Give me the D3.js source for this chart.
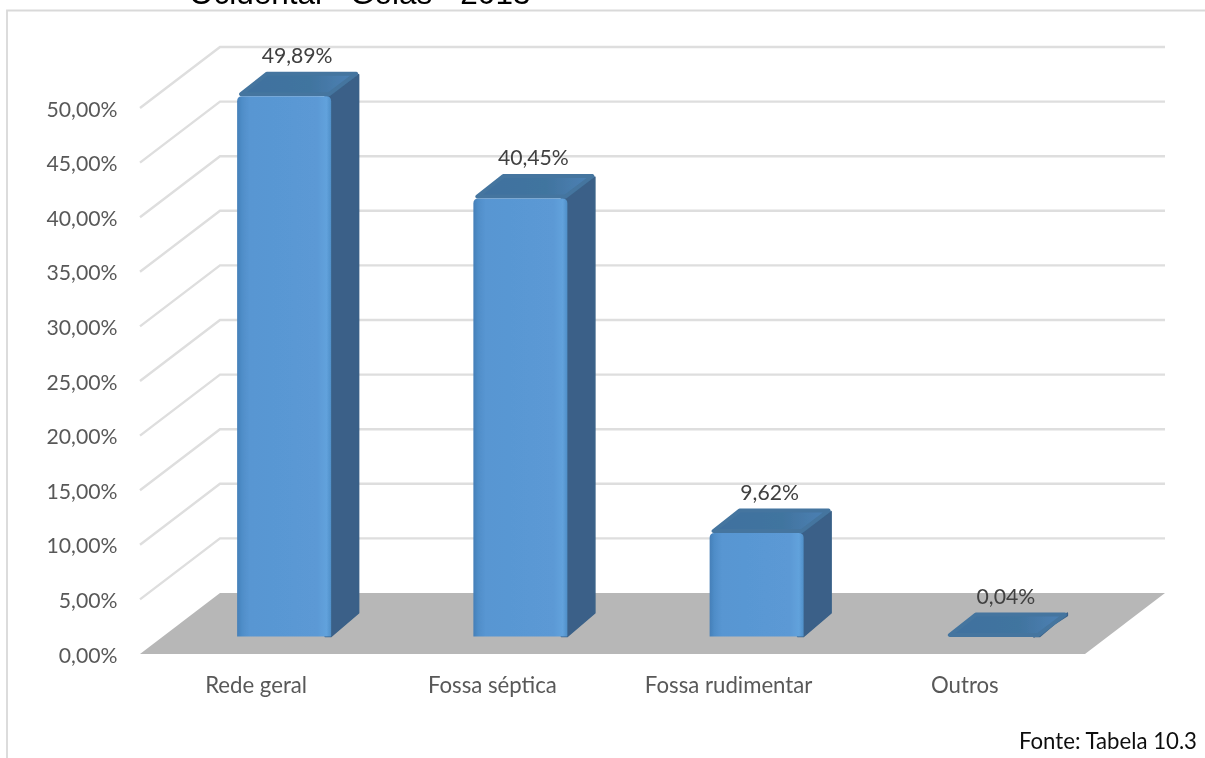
<!DOCTYPE html>
<html><head><meta charset="utf-8">
<script src="https://cdnjs.cloudflare.com/ajax/libs/d3/7.8.5/d3.min.js"></script>
<style>html,body{margin:0;padding:0;background:#fff;overflow:hidden}svg{display:block}text{font-family:Lato,"Noto Sans",sans-serif}</style>
</head><body><svg id="c" width="1205" height="758"></svg>
<script>
const categories = ["Rede geral","Fossa séptica","Fossa rudimentar","Outros"];
const values = [49.89,40.45,9.62,0.04];
const valueLabels = ["49,89%","40,45%","9,62%","0,04%"];
const ticks = [0,5,10,15,20,25,30,35,40,45,50];
const titleFragment = "Ocidental - Goiás - 2013";
const sourceNote = "Fonte: Tabela 10.3";

const svg = d3.select("#c");
const defs = svg.append("defs");
const blurL = defs.append("filter").attr("id","softL").attr("filterUnits","userSpaceOnUse")
  .attr("x",0).attr("y",0).attr("width",1205).attr("height",758);
blurL.append("feGaussianBlur").attr("stdDeviation",0.7);

function grad(id, stops){
  const g = defs.append("linearGradient").attr("id",id).attr("x1",0).attr("x2",1).attr("y1",0).attr("y2",0);
  stops.forEach(s=>g.append("stop").attr("offset",s[0]).attr("stop-color",s[1]));
}
grad("front",[[0,"#447fb8"],[0.05,"#4f8dc8"],[0.13,"#5896d2"],[0.85,"#5b99d5"],[0.95,"#62a2dc"],[1,"#4f8fc8"]]);
grad("top",[[0,"#41719f"],[0.6,"#41749f"],[0.9,"#4a7eb0"],[1,"#4b80b2"]]);

const y = d3.scaleLinear().domain([0,50]).range([654,108]);
const barY = d3.scaleLinear().domain([0,50]).range([636.5,94]);
const x = d3.scaleBand().domain(categories).range([140,1085]).padding(0);
const wallDx = 80, wallDy = -61, wallRight = 1165;
const barOff = 26, barW = 94, barDx = 28, barDy = -23.5;

const line = d3.line();
const chart = svg.append("g").attr("filter","url(#softL)");

// frame
chart.append("path").attr("d",line([[7,758],[7,10.5],[1205,10.5]])).attr("fill","none").attr("stroke","#d9d9d9").attr("stroke-width",1.8);

// floor
chart.append("path").attr("fill","#b7b7b7")
  .attr("d",line([[x.range()[0],y(0)],[x.range()[1],y(0)],[wallRight,y(0)+wallDy],[x.range()[0]+wallDx,y(0)+wallDy]])+"Z");

// gridlines along the side and back walls
chart.append("g").selectAll("path").data(ticks.filter(t=>t>0)).join("path")
  .attr("fill","none").attr("stroke","#dedede").attr("stroke-width",2.4)
  .attr("d",t=>line([[x.range()[0],y(t)],[x.range()[0]+wallDx,y(t)+wallDy],[wallRight,y(t)+wallDy]]));

// bars
const bars = chart.append("g").selectAll("g").data(categories).join("g");
const left = c => x(c)+x.bandwidth()/2+barOff-barW/2;
const topOf = (d,i)=>barY(values[i]);
bars.append("path").attr("fill","#3a6188").attr("stroke","#3a6188").attr("stroke-width",1.5).attr("stroke-linejoin","round")
  .attr("d",(c,i)=>{const l=left(c)+barW,t=topOf(c,i),b=barY(0);
    return line([[l-6,t+1],[l+barDx-0.5,t+barDy+3],[l+barDx-0.5,b+barDy],[l,b],[l-6,b]])+"Z";});
bars.append("path").attr("fill","url(#top)").attr("stroke","#44759f").attr("stroke-width",4).attr("stroke-linejoin","round")
  .attr("d",(c,i)=>{const l=left(c),t=topOf(c,i);
    return line([[l+4,t-1],[l+barW-2,t-1],[l+barW+barDx-3,t+barDy+2],[l+barDx+2,t+barDy+2]])+"Z";});
bars.append("path").attr("fill","url(#front)")
  .attr("d",(c,i)=>{const l=left(c),t=topOf(c,i)+1,b=barY(0);
    if(b-t<1) return null;
    const r=5;
    return `M${l},${b}L${l},${t+r}Q${l},${t} ${l+r},${t}L${l+barW-r},${t}Q${l+barW},${t} ${l+barW},${t+r}L${l+barW},${b}Z`;});

// axis labels
chart.append("g").selectAll("text").data(ticks).join("text")
  .attr("x",117.5).attr("y",t=>y(t)+8.5).attr("text-anchor","end")
  .attr("font-size",21.2).attr("fill","#595959").text(t=>t.toFixed(2).replace(".",",")+"%");
chart.append("g").selectAll("text").data(categories).join("text")
  .attr("x",c=>x(c)+x.bandwidth()/2-2).attr("y",693).attr("text-anchor","middle")
  .attr("font-size",22.2).attr("fill","#595959").text(c=>c);
// value labels
chart.append("g").selectAll("text").data(categories).join("text")
  .attr("x",c=>left(c)+(barW+barDx)/2-1).attr("y",(c,i)=>topOf(c,i)+barDy-9)
  .attr("text-anchor","middle").attr("font-size",21.2).attr("fill","#404040").text((c,i)=>valueLabels[i]);
// title fragment and source
chart.append("text").attr("x",189).attr("y",4).attr("font-size",31.5)
  .style("font-family","'Liberation Sans',Arial,sans-serif").attr("fill","#000").text(titleFragment);
chart.append("text").attr("x",1197).attr("y",749).attr("text-anchor","end")
  .attr("font-size",22.2).attr("fill","#111").text(sourceNote);
</script></body></html>
